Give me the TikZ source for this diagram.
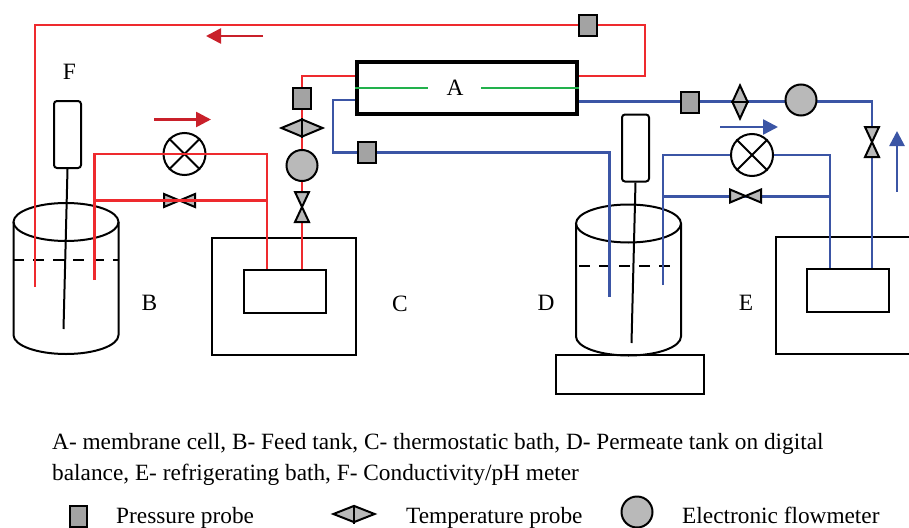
\documentclass[tikz,border=0pt]{standalone}
\usepackage{fontspec}
\setmainfont{Liberation Serif}
\usetikzlibrary{arrows.meta,shapes.geometric}
\definecolor{feedred}{HTML}{EE2A2E}
\definecolor{flowred}{HTML}{C9202A}
\definecolor{coldblue}{HTML}{3B55A5}
\definecolor{cellgreen}{HTML}{22B14C}
\definecolor{probegrey}{HTML}{A3A3A3}
\definecolor{partgrey}{HTML}{B9B9B9}
\tikzset{
  black line/.style={draw=black,line width=2pt},
  redpipe/.style={draw=feedred,line width=2.6pt},
  bluepipe/.style={draw=coldblue,line width=2.6pt},
  probe/.style={black line,fill=probegrey,minimum width=18pt,minimum height=21pt,inner sep=0pt},
  flowmeter/.style={black line,fill=partgrey,circle,minimum size=31pt,inner sep=0pt},
  pump/.style={black line,fill=white,circle,minimum size=42pt,inner sep=0pt},
  tempdiamond/.style={black line,fill=partgrey,diamond,inner sep=0pt},
  meter/.style={black line,fill=white,rounded corners=3pt,minimum width=27pt,minimum height=67pt,inner sep=0pt},
  bath/.style={black line,minimum width=144pt,minimum height=117pt,inner sep=0pt},
  coil/.style={black line,fill=white,minimum width=82pt,minimum height=43pt,inner sep=0pt},
  label/.style={font=\fontsize{23.4}{24}\selectfont,inner sep=0pt},
  legend/.style={font=\fontsize{23.3}{24}\selectfont,inner sep=0pt,anchor=base west},
  flowarrow/.style={line width=2.6pt,-{Triangle[length=15pt,width=15pt]}},
  tank/.pic={
    \draw[black line] (0,0) ellipse[x radius=52.5,y radius=19];
    \draw[black line] (-52.5,0) -- (-52.5,113) arc[start angle=180,end angle=0,x radius=52.5,y radius=19] -- (52.5,0);
  },
  hvalve/.pic={
    \draw[black line,fill=partgrey] (-15.5,-6.5) -- (15.5,6.5) -- (15.5,-6.5) -- (-15.5,6.5) -- cycle;
  },
  vvalve/.pic={
    \draw[black line,fill=partgrey] (-7,-15) -- (7,-15) -- (-7,15) -- (7,15) -- cycle;
  }
}
\begin{document}
\begin{tikzpicture}[x=1pt,y=1pt,yscale=-1]
\useasboundingbox (0,0) rectangle (909,527);

% tanks
\pic[transform shape] at (66,222) {tank};
\pic[transform shape] at (628.5,223.5) {tank};
\draw[black line,dash pattern=on 11pt off 9pt] (13,259.5) -- (118,259.5);
\draw[black line,dash pattern=on 11pt off 9pt] (579,266) -- (675,266);
\node[black line,minimum width=148pt,minimum height=39pt,inner sep=0pt] (balance) at (630,374.5) {};

% baths
\node[bath] (bathC) at (284,296.5) {};
\node[bath,minimum width=136pt] (bathE) at (844,295.5) {};
\node[coil] (coilC) at (284.5,291.5) {};
\node[coil] (coilE) at (848,290) {};

% membrane cell
\node[black line,line width=3.4pt,minimum width=220pt,minimum height=52pt,inner sep=0pt] (cell) at (467,88) {};
\node[label] (labelA) at (455,88) {A};
\draw[cellgreen,line width=2.4pt] (cell.west |- labelA) -- (428,88);
\draw[cellgreen,line width=2.4pt] (481,88) -- (cell.east |- labelA);

% return line to the feed tank
\coordinate (retdrop) at (35,287);
\coordinate (rettop) at (35,25);
\coordinate (retright) at (645,25);
\coordinate (retcell) at (645,76);
\draw[redpipe] (retdrop) -- (rettop) -- (retright) -- (retcell) -- (cell.east |- retcell);

% feed line to the cell
\coordinate (feedcorner) at (302,76);
\draw[redpipe] (coilC.north -| feedcorner) -- (feedcorner) -- (cell.west |- feedcorner);

% permeate lines
\coordinate (perma) at (333,100);
\coordinate (permb) at (333,152.5);
\coordinate (permc) at (609.5,152.5);
\coordinate (permd) at (609.5,297);
\draw[bluepipe] (cell.west |- perma) -- (perma) -- (permb) -- (permc) -- (permd);
\coordinate (outa) at (579,101.5);
\coordinate (outb) at (872,101.5);
\draw[bluepipe] (outa) -- (outb) -- (coilE.north -| outb);

% pump and bypass, feed side
\node[pump] (pumpC) at (184.5,154) {};
\draw[black line] (pumpC.45) -- (pumpC.225) (pumpC.135) -- (pumpC.315);
\pic at (179.5,200.5) {hvalve};
\coordinate (feedtop) at (94.5,154);
\coordinate (feedlow) at (94.5,280);
\coordinate (feedbyp) at (94.5,200.5);
\coordinate (bathtop) at (267,154);
\coordinate (bathbyp) at (267,200.5);
\draw[redpipe] (feedlow) -- (feedtop) -- (bathtop) -- (coilC.north -| bathtop);
\draw[redpipe] (feedbyp) -- (bathbyp);

% pump and bypass, permeate side
\coordinate (coldlow) at (663,285);
\coordinate (coldtop) at (663,155);
\coordinate (coldbyp) at (663,196.5);
\coordinate (coldright) at (830,155);
\coordinate (coldrbyp) at (830,196.5);
\draw[bluepipe] (coldlow) -- (coldtop) -- (coldright) -- (coilE.north -| coldright);
\draw[bluepipe] (coldbyp) -- (coldrbyp);
\node[pump] (pumpE) at (752,155) {};
\draw[black line] (pumpE.45) -- (pumpE.225) (pumpE.135) -- (pumpE.315);
\pic at (745.5,196) {hvalve};

% meters
\node[meter] (meterF) at (67.5,134.5) {};
\draw[black line] (meterF.south) -- (63.5,329);
\node[meter] (meterD) at (635.5,148) {};
\draw[black line] (meterD.south) -- (631.5,343);

% probes
\node[probe] (probeA) at (588,25.5) {};
\node[probe] (probeB) at (302,98) {};
\node[probe] (probeC) at (367,152.5) {};
\node[probe] (probeD) at (689.5,102) {};
\node[tempdiamond,minimum width=42pt,minimum height=18pt] (tempC) at (302,128) {};
\draw[black line] (tempC.north) -- (tempC.south);
\node[tempdiamond,minimum width=16pt,minimum height=34pt] (tempE) at (740,102) {};
\draw[black line] (tempE.west) -- (tempE.east);
\node[flowmeter] (flowC) at (302,165.5) {};
\node[flowmeter] (flowE) at (801,100) {};
\pic at (302,207) {vvalve};
\pic at (872,142) {vvalve};

% arrows
\draw[flowarrow,flowred] (263,36) -- (206,36);
\draw[flowarrow,flowred] (154,119.5) -- (211,119.5);
\draw[flowarrow,coldblue] (720,127) -- (778,127);
\draw[flowarrow,coldblue] (897,191.5) -- (897,131);

% letters
\node[label] (labelF) at (69.5,72) {F};
\node[label] (labelB) at (149.5,303) {B};
\node[label] (labelC) at (400,304) {C};
\node[label] (labelD) at (546,303) {D};
\node[label] (labelE) at (746,303) {E};

% caption
\node[legend] (capa) at (52,449) {A- membrane cell, B- Feed tank, C- thermostatic bath, D- Permeate tank on digital};
\node[legend] (capb) at (52,480) {balance, E- refrigerating bath, F- Conductivity/pH meter};

% key
\node[probe,minimum width=17pt] (keyP) at (78.5,516.5) {};
\node[legend] (keyPt) at (116,523) {Pressure probe};
\node[tempdiamond,minimum width=42pt,minimum height=17pt] (keyT) at (354,514) {};
\draw[black line] (keyT.north) -- (keyT.south);
\node[legend] (keyTt) at (406,523) {Temperature probe};
\node[flowmeter] (keyF) at (637,512) {};
\node[legend] (keyFt) at (682,523) {Electronic flowmeter};
\end{tikzpicture}
\end{document}
